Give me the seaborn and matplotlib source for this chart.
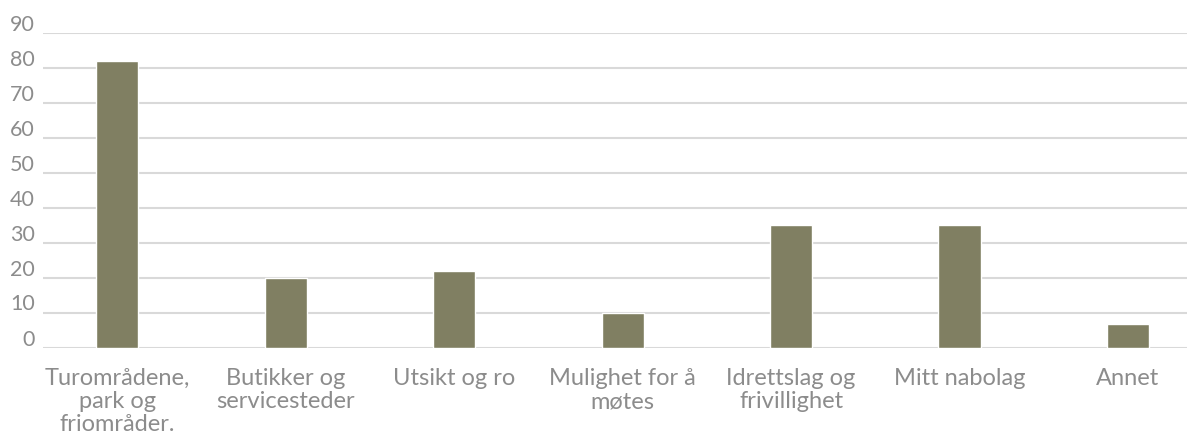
import matplotlib
matplotlib.use("Agg")
import matplotlib.pyplot as plt
import matplotlib.transforms as mtransforms
import pandas as pd
import seaborn as sns

categories = ["Turområdene,\npark og\nfriområder.", "Butikker og\nservicesteder",
              "Utsikt og ro", "Mulighet for å\nmøtes", "Idrettslag og\nfrivillighet",
              "Mitt nabolag", "Annet"]
values = [82, 20, 22, 10, 35, 35, 6.6]
y_ticks = list(range(0, 100, 10))

df = pd.DataFrame({"kategori": categories, "verdi": values})

sns.set_theme(style="white")
plt.rcParams["font.family"] = ["Lato", "DejaVu Sans"]

fig = plt.figure(figsize=(11.87, 4.45), dpi=100)
ax = fig.add_axes([43 / 1187, 1 - 347.5 / 445, (1187 - 43) / 1187, 315 / 445])

sns.barplot(data=df, x="kategori", y="verdi", color="#807f62", width=0.25,
            saturation=1, ax=ax)

ax.set_ylim(0, 90)
ax.set_xlim(-0.44, 6.35)
ax.set_yticks(y_ticks)
ax.yaxis.grid(True, color="#d9d9d9", linewidth=1.5)
ax.set_axisbelow(True)
for s in ax.spines.values():
    s.set_visible(False)
ax.set_xlabel("")
ax.set_ylabel("")
grey = "#8c8c8c"
ax.tick_params(axis="y", length=0, pad=6, labelsize=15.5, labelcolor=grey)
ax.tick_params(axis="x", length=0, pad=15, labelsize=17, labelcolor=grey)

shift = mtransforms.ScaledTranslation(0, 10 / 100, fig.dpi_scale_trans)
for lab in ax.get_yticklabels():
    lab.set_transform(lab.get_transform() + shift)
for lab in ax.get_xticklabels():
    lab.set_linespacing(1.12)

fig.savefig("out.png", dpi=100)
